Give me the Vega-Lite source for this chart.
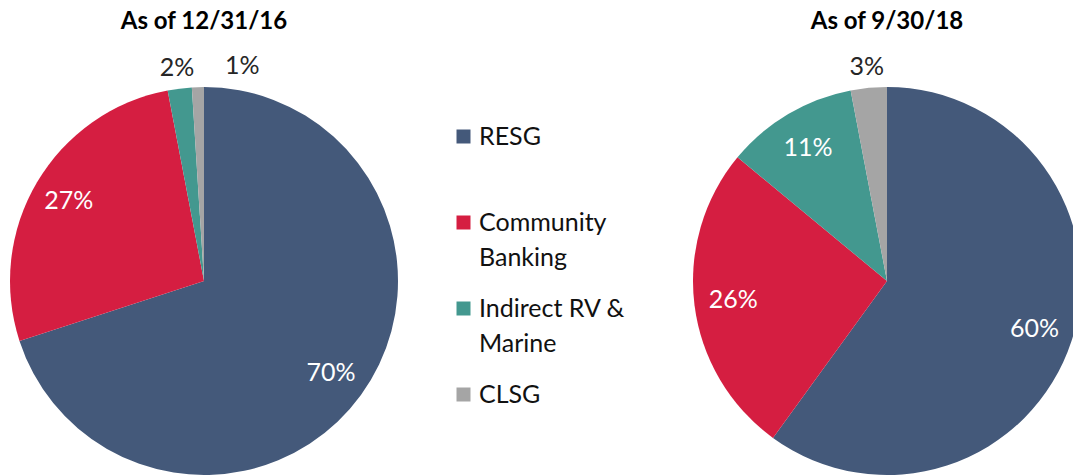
{
  "$schema": "https://vega.github.io/schema/vega-lite/v6.json",
  "autosize": {"type": "none"},
  "padding": {"left": 0, "top": 87, "right": 0, "bottom": 1},
  "width": 1073,
  "height": 388,
  "background": "white",
  "datasets": {
    "shares": [
      {"period": "As of 12/31/16", "segment": "RESG", "value": 0.70, "idx": 1},
      {"period": "As of 12/31/16", "segment": "Community Banking", "value": 0.27, "idx": 2},
      {"period": "As of 12/31/16", "segment": "Indirect RV & Marine", "value": 0.02, "idx": 3},
      {"period": "As of 12/31/16", "segment": "CLSG", "value": 0.01, "idx": 4},
      {"period": "As of 9/30/18", "segment": "RESG", "value": 0.60, "idx": 1},
      {"period": "As of 9/30/18", "segment": "Community Banking", "value": 0.26, "idx": 2},
      {"period": "As of 9/30/18", "segment": "Indirect RV & Marine", "value": 0.11, "idx": 3},
      {"period": "As of 9/30/18", "segment": "CLSG", "value": 0.03, "idx": 4}
    ]
  },
  "data": {"name": "shares"},
  "config": {
    "view": {"stroke": null},
    "font": "Lato",
    "style": {"guide-label": {"lineHeight": 35}},
    "legend": {
      "symbolType": "square",
      "symbolSize": 196,
      "symbolStrokeWidth": 0,
      "labelFont": "Lato",
      "labelFontSize": 25,
      "labelColor": "#111111",
      "labelOffset": 3,
      "labelLimit": 400,
      "rowPadding": 25,
      "padding": 0
    }
  },
  "encoding": {
    "x": {"field": "period", "type": "nominal", "axis": null, "scale": {"type": "point", "padding": 0, "domain": ["As of 12/31/16", "As of 9/30/18"], "range": [204, 887]}},
    "theta": {"field": "value", "type": "quantitative", "stack": true, "scale": {"domain": [0, 1]}},
    "order": {"field": "idx", "type": "quantitative"},
    "color": {
      "field": "segment",
      "type": "nominal",
      "scale": {
        "domain": ["RESG", "Community Banking", "Indirect RV & Marine", "CLSG"],
        "range": ["#44597A", "#D51E41", "#43988F", "#A5A5A5"]
      },
      "legend": {
        "orient": "none",
        "legendX": 451,
        "legendY": 37,
        "title": null,
        "labelExpr": "datum.label == 'Community Banking' ? ['Community', 'Banking'] : datum.label == 'Indirect RV & Marine' ? ['Indirect RV &', 'Marine'] : datum.label == 'RESG' ? ['RESG', ' '] : datum.label"
      }
    }
  },
  "layer": [
    {
      "transform": [{"filter": "datum.period == 'As of 12/31/16'"}],
      "mark": {"type": "arc", "radius": 194}
    },
    {
      "transform": [{"filter": "datum.period == 'As of 9/30/18'"}],
      "mark": {"type": "arc", "radius": 194}
    },
    {
      "transform": [{"filter": "datum.period == 'As of 12/31/16'"}],
      "mark": {"type": "text", "radius": 157, "fontSize": 25, "font": "Lato"},
      "encoding": {
        "color": {"value": "white"},
        "text": {"field": "value", "type": "quantitative", "format": ".0%", "condition": {"test": "datum.value < 0.05", "value": ""}}
      }
    },
    {
      "transform": [{"filter": "datum.period == 'As of 9/30/18'"}],
      "mark": {"type": "text", "radius": 155, "fontSize": 25, "font": "Lato"},
      "encoding": {
        "color": {"value": "white"},
        "text": {"field": "value", "type": "quantitative", "format": ".0%", "condition": {"test": "datum.value < 0.05", "value": ""}}
      }
    },
    {
      "transform": [{"filter": "datum.period == 'As of 12/31/16'"}],
      "mark": {"type": "text", "radius": 215, "fontSize": 25, "font": "Lato"},
      "encoding": {
        "color": {"value": "#262626"},
        "text": {"field": "value", "type": "quantitative", "format": ".0%", "condition": {"test": "datum.value >= 0.05 || datum.segment == 'CLSG'", "value": ""}}
      }
    },
    {
      "transform": [{"filter": "datum.period == 'As of 12/31/16'"}],
      "mark": {"type": "text", "radius": 215, "fontSize": 25, "font": "Lato", "dx": 45},
      "encoding": {
        "color": {"value": "#262626"},
        "text": {"field": "value", "type": "quantitative", "format": ".0%", "condition": {"test": "datum.segment != 'CLSG'", "value": ""}}
      }
    },
    {
      "transform": [{"filter": "datum.period == 'As of 9/30/18'"}],
      "mark": {"type": "text", "radius": 215, "fontSize": 25, "font": "Lato"},
      "encoding": {
        "color": {"value": "#262626"},
        "text": {"field": "value", "type": "quantitative", "format": ".0%", "condition": {"test": "datum.value >= 0.05", "value": ""}}
      }
    },
    {
      "transform": [{"filter": "datum.idx == 1"}],
      "mark": {"type": "text", "theta": 0, "radius": 252, "fontSize": 24, "fontWeight": "bold", "font": "Lato", "baseline": "alphabetic"},
      "encoding": {
        "theta": null,
        "order": null,
        "color": {"value": "#000000"},
        "text": {"field": "period", "type": "nominal"}
      }
    }
  ]
}
